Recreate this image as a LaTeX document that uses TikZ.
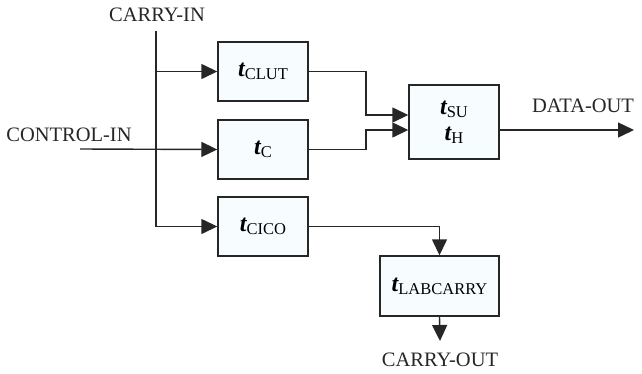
\documentclass[tikz,border=0pt]{standalone}
\usepackage{fontspec}
\setmainfont{Liberation Serif}
\usetikzlibrary{arrows.meta}
\newcommand{\tsym}[1]{{\fontsize{24}{26}\selectfont\bfseries\itshape t}\raisebox{-0.35ex}{\fontsize{16.5}{18}\selectfont #1}}
\begin{document}
\begin{tikzpicture}[x=1pt,y=-1pt,
  box/.style={draw=black!85,line width=1.4pt,fill=cyan!3,minimum width=90pt,minimum height=59pt,inner sep=0pt,font=\fontsize{20}{26}\selectfont},
  lbl/.style={font=\fontsize{20.5}{24}\selectfont,inner sep=0pt,text=black!85},
  wire/.style={line width=1.4pt,draw=black!85},
  arr/.style={wire,-{Triangle[length=16pt,width=15pt]}}]
\useasboundingbox (0,0) rectangle (642,373);
\node[box] (clut) at (263,71.5) {\tsym{CLUT}};
\node[box] (c) at (263,149.5) {\tsym{C}};
\node[box] (cico) at (263,226.5) {\tsym{CICO}};
\node[box,minimum height=74pt,align=center] (su) at (454,122) {\tsym{SU}\\\tsym{H}};
\node[box,minimum width=119pt,minimum height=60pt] (lab) at (439.5,286) {\tsym{LABCARRY}};
\node[lbl] (carryin) at (157,15) {CARRY-IN};
\node[lbl] (controlin) at (69,135) {CONTROL-IN};
\node[lbl] (dataout) at (583,106) {DATA-OUT};
\node[lbl] (carryout) at (440,360) {CARRY-OUT};
\coordinate (vtop) at (156,31);
\coordinate (ctrl) at (80,149);
\coordinate (dout) at (634,130);
\coordinate (cout) at (440,341);
\coordinate (jx) at (366,0);
\coordinate (su1) at ([yshift=7pt]su.west);
\coordinate (su2) at ([yshift=-8pt]su.west);
\draw[arr] (vtop) |- (cico.west);
\draw[arr] (vtop |- clut.west) -- (clut.west);
\draw[arr] (ctrl) -- (c.west);
\draw[arr] (clut.east) -| (jx |- su1) -- (su1);
\draw[arr] (c.east) -| (jx |- su2) -- (su2);
\draw[arr] ([yshift=-8pt]su.east) -- (dout);
\draw[arr] (cico.east) -| (lab.north);
\draw[arr] (lab.south) -- (cout);
\end{tikzpicture}
\end{document}
